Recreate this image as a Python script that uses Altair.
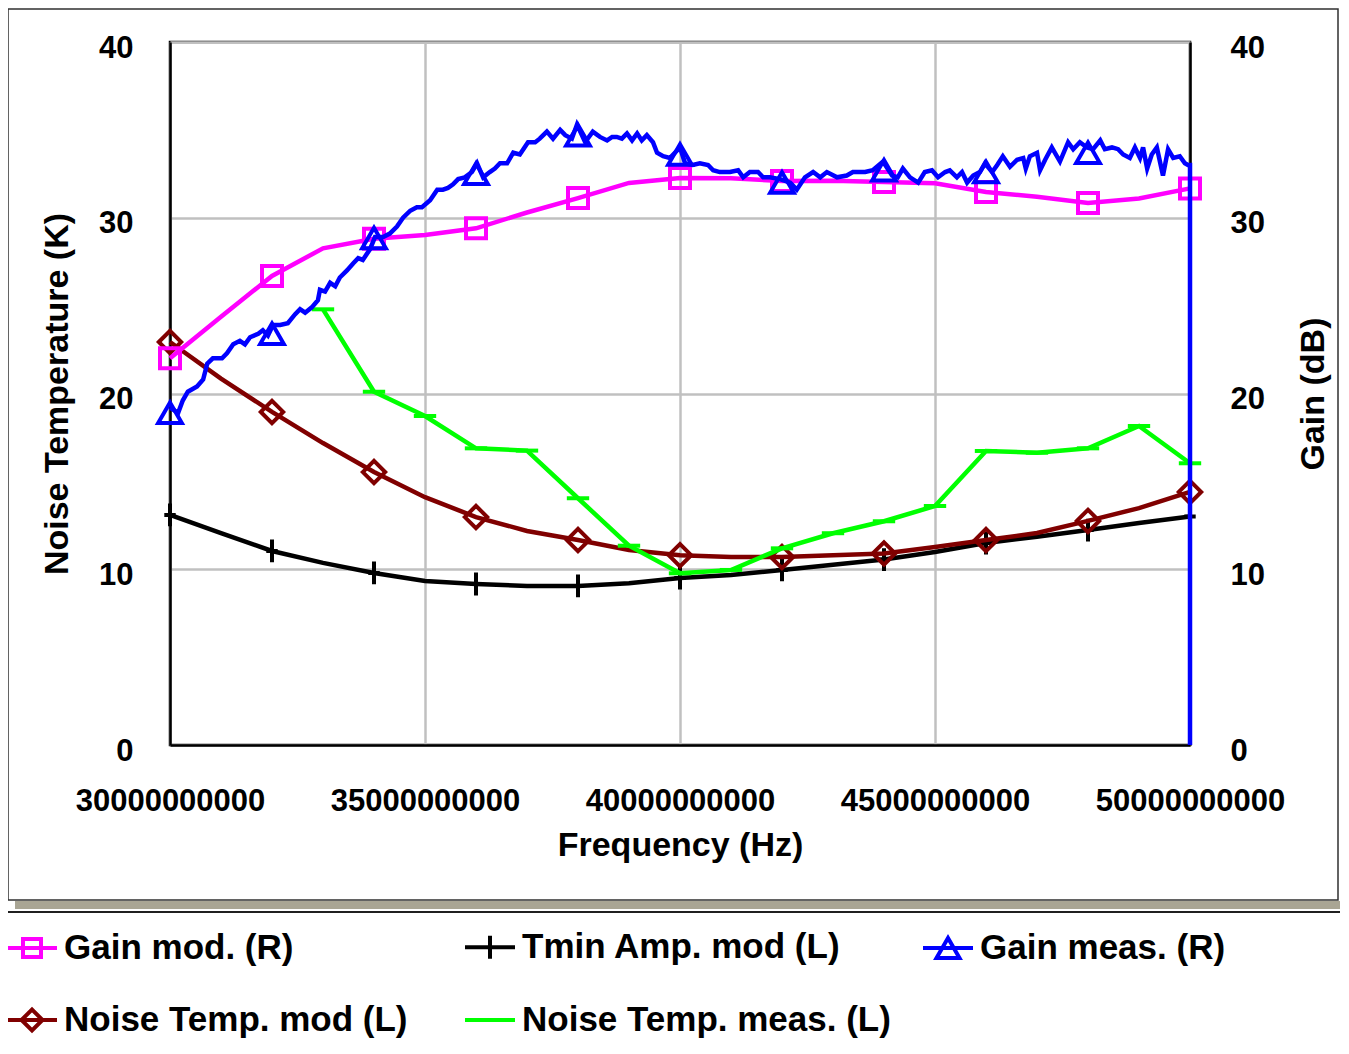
import altair as alt
import pandas as pd

FONT = "Liberation Sans"

# ---------------- data ----------------
freq_ghz = list(range(30, 51))
gain_mod = [22.0, 24.37, 26.69, 28.26, 28.8, 29.02, 29.4, 30.3, 31.12, 31.98, 32.26,
            32.25, 32.09, 32.1, 32.03, 31.96, 31.46, 31.2, 30.84, 31.1, 31.67]
tmin_mod = [13.09, 12.06, 11.04, 10.36, 9.79, 9.33, 9.16, 9.05, 9.05, 9.2, 9.5,
            9.67, 9.96, 10.25, 10.55, 10.98, 11.49, 11.85, 12.23, 12.63, 13.0]
nt_mod = [22.93, 20.85, 18.95, 17.18, 15.53, 14.1, 12.97, 12.18, 11.66, 11.1, 10.8,
          10.7, 10.7, 10.8, 10.9, 11.27, 11.66, 12.06, 12.75, 13.48, 14.4]

nt_meas_freq = list(range(33, 51))
nt_meas = [24.79, 20.1, 18.72, 16.88, 16.75, 14.04, 11.34, 9.77, 9.96, 11.19,
           12.05, 12.73, 13.6, 16.73, 16.63, 16.88, 18.15, 16.03]

gain_meas_freq = [
    30.00, 30.16, 30.25, 30.35, 30.53, 30.65, 30.73, 30.84, 31.02, 31.12, 31.24, 31.37,
    31.47, 31.57, 31.73, 31.82, 31.92, 32.02, 32.16, 32.31, 32.45, 32.55, 32.65, 32.78,
    32.90, 32.94, 33.04, 33.14, 33.24, 33.33, 33.47, 33.59, 33.69, 33.78, 33.92, 34.02,
    34.18, 34.31, 34.45, 34.57, 34.71, 34.84, 34.94, 35.10, 35.24, 35.35, 35.45, 35.55,
    35.65, 35.78, 35.92, 36.02, 36.14, 36.27, 36.37, 36.47, 36.61, 36.73, 36.86, 37.02,
    37.16, 37.25, 37.39, 37.51, 37.65, 37.75, 37.88, 37.98, 38.14, 38.29, 38.43, 38.57,
    38.67, 38.76, 38.86, 38.96, 39.06, 39.16, 39.25, 39.35, 39.47, 39.55, 39.67, 39.80,
    39.90, 40.00, 40.10, 40.25, 40.39, 40.55, 40.65, 40.78, 40.98, 41.14, 41.24, 41.37,
    41.53, 41.63, 41.76, 41.96, 42.16, 42.29, 42.45, 42.61, 42.75, 42.88, 43.08, 43.27,
    43.39, 43.63, 43.78, 43.98, 44.16, 44.27, 44.37, 44.51, 44.67, 44.80, 44.94, 45.06,
    45.20, 45.29, 45.43, 45.53, 45.63, 45.75, 45.88, 45.98, 46.12, 46.22, 46.33, 46.47,
    46.61, 46.73, 46.78, 46.86, 47.00, 47.06, 47.16, 47.29, 47.45, 47.61, 47.71, 47.84,
    47.98, 48.10, 48.24, 48.33, 48.47, 48.59, 48.69, 48.82, 48.92, 49.02, 49.08, 49.16,
    49.25, 49.35, 49.47, 49.57, 49.67, 49.80, 49.90, 49.96, 50.00, 50.00]
gain_meas = [
    19.2, 18.9, 19.6, 20.1, 20.4, 20.8, 21.7, 22.0, 22.0, 22.3, 22.8, 23.0,
    22.8, 23.2, 23.4, 23.6, 23.3, 23.9, 23.9, 24.0, 24.5, 24.8, 24.6, 24.9,
    25.3, 25.9, 25.8, 26.3, 26.1, 26.6, 27.0, 27.4, 27.7, 27.6, 28.2, 28.9,
    28.9, 29.1, 29.5, 30.0, 30.4, 30.6, 30.6, 31.0, 31.6, 31.6, 31.7, 31.9,
    32.2, 32.3, 32.6, 33.1, 32.3, 32.6, 32.8, 33.1, 33.1, 33.7, 33.6, 34.3,
    34.3, 34.5, 34.9, 34.5, 35.0, 34.7, 34.5, 35.3, 34.3, 34.9, 34.6, 34.4,
    34.6, 34.6, 34.5, 34.8, 34.4, 34.8, 34.4, 34.7, 34.3, 33.7, 33.5, 33.4,
    33.7, 34.0, 33.1, 33.0, 33.1, 33.0, 32.7, 32.6, 32.6, 32.7, 32.3, 32.6,
    32.6, 32.3, 32.3, 32.2, 32.0, 31.6, 32.3, 32.6, 32.3, 32.6, 32.3, 32.4,
    32.6, 32.6, 32.7, 33.2, 32.4, 32.3, 32.8, 32.3, 32.0, 32.6, 32.7, 32.3,
    32.6, 32.7, 32.3, 32.6, 32.0, 32.4, 32.6, 33.1, 32.6, 33.0, 33.5, 32.9,
    33.3, 33.4, 32.8, 33.5, 33.7, 32.7, 33.3, 34.0, 33.2, 34.3, 33.9, 34.3,
    34.0, 33.9, 34.4, 33.9, 34.0, 33.9, 33.6, 33.4, 34.0, 33.4, 34.0, 32.8,
    33.6, 34.0, 32.4, 33.9, 33.4, 33.5, 33.1, 33.0, 33.0, 0.0]

gain_meas_marker_freq = [30, 32, 34, 36, 38, 40, 42, 44, 46, 48]
gain_meas_marker = [18.9, 23.4, 28.85, 32.5, 34.7, 33.6, 32.0, 32.7, 32.6, 33.7]

x_ticks = [30e9, 35e9, 40e9, 45e9, 50e9]
y_ticks = [0, 10, 20, 30, 40]

# legend entries (listed column by column: two rows, three columns)
legend_names = ["Gain mod. (R)", "Noise Temp. mod (L)", "Tmin Amp. mod (L)",
                "Noise Temp. meas. (L)", "Gain meas. (R)"]
legend_colors = ["#ff00ff", "#800000", "#000000", "#00ff00", "#0000ff"]
legend_paths = [
    "M-1,0L1,0M-0.36,-0.36L0.36,-0.36L0.36,0.36L-0.36,0.36Z",
    "M-1,0L1,0M-0.42,0L0,-0.42L0.42,0L0,0.42Z",
    "M-1,0L1,0M0,-0.46L0,0.46",
    "M-1,0L1,0",
    "M-1,0L1,0M0,-0.4L0.46,0.4L-0.46,0.4Z",
]

# ---------------- tables ----------------
def hz(lst):
    return [f * 1e9 for f in lst]

df_model = pd.DataFrame({"hz": hz(freq_ghz), "ghz": freq_ghz, "gain": gain_mod,
                         "temp_tmin": tmin_mod, "temp_nt": nt_mod})
df_model_m = df_model[df_model["ghz"] % 2 == 0]
df_ntm = pd.DataFrame({"hz": hz(nt_meas_freq), "temp": nt_meas})
df_gm = pd.DataFrame({"hz": hz(gain_meas_freq), "gain": gain_meas,
                      "idx": list(range(len(gain_meas)))})
df_gm_m = pd.DataFrame({"hz": hz(gain_meas_marker_freq), "gain": gain_meas_marker})
df_leg = pd.DataFrame({"hz": [3e10] * 5, "temp": [0] * 5, "Legend": legend_names})

# ---------------- encodings ----------------
x_axis = alt.Axis(values=x_ticks, format="d", title="Frequency (Hz)", ticks=False,
                  grid=True, gridColor="#c0c0c0", gridWidth=2.5, labelLimit=400,
                  labelPadding=41, titlePadding=12, labelFlush=False)
x_scale = alt.Scale(domain=[3e10, 5e10], nice=False, zero=False)

def X():
    return alt.X("hz:Q", scale=x_scale, axis=x_axis)

left_axis = alt.Axis(values=y_ticks, title="Noise Temperature (K)", orient="left",
                     ticks=False, grid=True, gridColor="#c0c0c0", gridWidth=2.5,
                     labelPadding=37, titlePadding=24, labelOffset=6)
right_axis = alt.Axis(values=y_ticks, title="Gain (dB)", orient="right", ticks=False,
                      grid=False, labelPadding=40, titlePadding=66, labelOffset=6,
                      titleAngle=270)
y_scale = alt.Scale(domain=[0, 40], nice=False)

def YL(field):
    return alt.Y(f"{field}:Q", scale=y_scale, axis=left_axis)

def YR(field):
    return alt.Y(f"{field}:Q", scale=y_scale, axis=right_axis)

LW = 4.5
MW = 4

# left-axis series
tmin_line = alt.Chart(df_model).mark_line(color="#000000", strokeWidth=LW).encode(
    x=X(), y=YL("temp_tmin"))
tmin_pts = alt.Chart(df_model_m).mark_point(
    shape="M0,-1L0,1M-0.5,0L0.5,0", size=520, filled=False, color="#000000",
    strokeWidth=MW, opacity=1).encode(x=X(), y=YL("temp_tmin"))
nt_line = alt.Chart(df_model).mark_line(color="#800000", strokeWidth=LW).encode(
    x=X(), y=YL("temp_nt"))
nt_pts = alt.Chart(df_model_m).mark_point(
    shape="diamond", size=500, filled=False, color="#800000",
    strokeWidth=MW, opacity=1).encode(x=X(), y=YL("temp_nt"))
ntm_line = alt.Chart(df_ntm).mark_line(color="#00ff00", strokeWidth=LW).encode(
    x=X(), y=YL("temp"))
ntm_pts = alt.Chart(df_ntm).mark_point(
    shape="M-1,0L1,0", size=500, filled=False, color="#00ff00",
    strokeWidth=MW, opacity=1).encode(x=X(), y=YL("temp"))

leg = alt.Legend(title=None, orient="none", legendX=-165, legendY=878, columns=3,
                 gridAlign="all", columnPadding=24, rowPadding=26, symbolSize=2500,
                 symbolStrokeWidth=4, labelFont=FONT, labelFontSize=35,
                 labelFontWeight="bold", labelColor="#000000", labelOffset=5,
                 labelLimit=600, padding=0)
legend_layer = alt.Chart(df_leg).mark_point(filled=False, strokeWidth=4, opacity=1).encode(
    x=X(), y=YL("temp"),
    color=alt.Color("Legend:N", scale=alt.Scale(domain=legend_names, range=legend_colors),
                    legend=leg),
    shape=alt.Shape("Legend:N", scale=alt.Scale(domain=legend_names, range=legend_paths),
                    legend=leg),
).transform_filter("false")

left_group = alt.layer(tmin_line, tmin_pts, nt_line, nt_pts, ntm_line, ntm_pts,
                       legend_layer)

# right-axis series
gmod_line = alt.Chart(df_model).mark_line(color="#ff00ff", strokeWidth=LW).encode(
    x=X(), y=YR("gain"))
gmod_pts = alt.Chart(df_model_m).mark_point(
    shape="square", size=400, filled=False, color="#ff00ff",
    strokeWidth=MW, opacity=1).encode(x=X(), y=YR("gain"))
gmeas_line = alt.Chart(df_gm).mark_line(color="#0000ff", strokeWidth=LW).encode(
    x=X(), y=YR("gain"), order="idx:Q")
gmeas_pts = alt.Chart(df_gm_m).mark_point(
    shape="triangle-up", size=560, filled=False, color="#0000ff",
    strokeWidth=MW, opacity=1).encode(x=X(), y=YR("gain"))

right_group = alt.layer(gmod_line, gmod_pts, gmeas_line, gmeas_pts)

# decorative frames around chart and legend boxes
frame = alt.Chart().mark_rect(fill=None, stroke="#303030", strokeWidth=1.5).encode(
    x=alt.value(-162), x2=alt.value(1168), y=alt.value(-33), y2=alt.value(858))
shadow = alt.Chart().mark_rect(fill="#a9a594").encode(
    x=alt.value(-155), x2=alt.value(1170), y=alt.value(859), y2=alt.value(867))
sep = alt.Chart().mark_rule(color="#202020", strokeWidth=2).encode(
    x=alt.value(-170), x2=alt.value(1170), y=alt.value(870))

chart = alt.layer(frame, shadow, sep, left_group, right_group).resolve_scale(
    y="independent"
).properties(
    width=1020, height=703,
    padding={"left": 162, "top": 34, "right": 150, "bottom": 295},
    autosize=alt.AutoSizeParams(type="none"),
).configure_view(
    stroke="#000000", strokeWidth=2.5
).configure_axis(
    labelFont=FONT, titleFont=FONT, labelFontSize=31, titleFontSize=34,
    labelFontWeight="bold", titleFontWeight="bold", labelColor="#000000",
    titleColor="#000000", domainColor="#000000", domainWidth=2.5,
)

chart.save("out.html", embed_options={"renderer": "svg", "actions": False})
